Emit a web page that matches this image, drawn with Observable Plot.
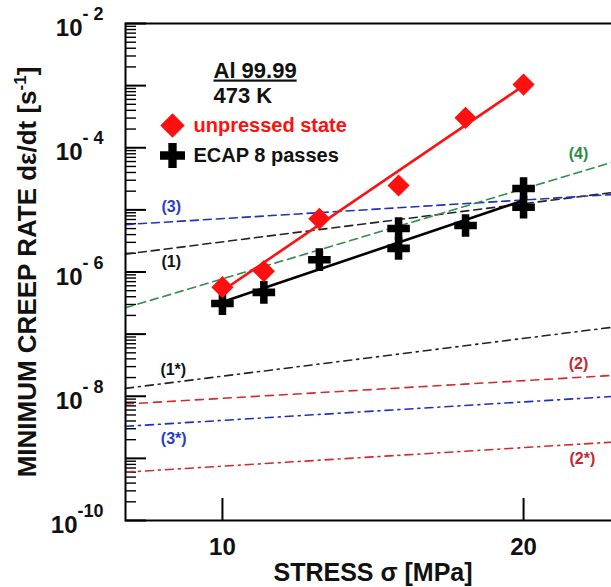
<!DOCTYPE html>
<html><head><meta charset="utf-8">
<script src="https://cdn.jsdelivr.net/npm/d3@7"></script>
<script src="https://cdn.jsdelivr.net/npm/@observablehq/plot@0.6"></script>
<style>
html,body{margin:0;padding:0;background:#fff;overflow:hidden;}
#chart{width:622px;height:587px;overflow:hidden;}
#chart svg{max-width:none !important;}
</style></head><body><div id="chart"></div>
<script>
// ---- data ----
const stressUnpressed = [10, 11, 12.5, 15, 17.5, 20];
const rateUnpressed = [5.7e-7, 1.03e-6, 7.2e-6, 2.47e-5, 3.03e-4, 1.04e-3];
const stressEcap = [10, 11, 12.5, 15, 15, 17.5, 20, 20];
const rateEcap = [3.1e-7, 4.7e-7, 1.58e-6, 5.0e-6, 2.4e-6, 5.6e-6, 2.2e-5, 1.1e-5];
const fitStress = [10, 20];
const fitUnpressed = [5.0e-7, 1.0e-3];
const fitEcap = [3.3e-7, 1.42e-5];
const theoryNames = ["(1)", "(2)", "(3)", "(4)", "(1*)", "(2*)", "(3*)"];
const theoryStress = [8, 25];
const theoryRateStart = [1.94e-6, 7.5e-9, 5.79e-6, 2.65e-7, 1.34e-8, 6.0e-10, 3.28e-9];
const theoryRateEnd = [1.98e-5, 2.2e-8, 1.8e-5, 6.4e-5, 1.34e-7, 1.86e-9, 1.01e-8];
const theoryLabelStress = [8.89, 22.7, 8.89, 22.7, 8.93, 22.9, 8.94];
const theoryLabelRate = [1.44e-6, 3.33e-8, 1.13e-5, 8.0e-5, 2.67e-8, 9.8e-10, 2.07e-9];
const xTickValues = [10, 20];
const yLabelTicks = [1e-2, 1e-4, 1e-6, 1e-8, 1e-10];
const yExponents = ["- 2", "- 4", "- 6", "- 8", "-10"];
const annotationLines = ["Al 99.99", "473 K"];
const legendNames = ["unpressed state", "ECAP 8 passes"];
const xAxisTitle = "STRESS σ [MPa]";
const yAxisTitle = "MINIMUM CREEP RATE dε/dt [s^-1]";

// ---- styles ----
const FONT = "'Liberation Sans', Arial, Helvetica, sans-serif";
const RED = "#ff1010";
const theoryStyle = {
  "(1)":  {stroke: "#222222", dash: "8,5", text: "#111111"},
  "(2)":  {stroke: "#d42a2e", dash: "8,6", text: "#c42830"},
  "(3)":  {stroke: "#2030c0", dash: "8,5", text: "#2a3cc8"},
  "(4)":  {stroke: "#2f8f4a", dash: "8,5", text: "#2e8b4a"},
  "(1*)": {stroke: "#222222", dash: "8,5,2,5", text: "#111111"},
  "(2*)": {stroke: "#d42a2e", dash: "8,5,2,5", text: "#c42830"},
  "(3*)": {stroke: "#2030c0", dash: "8,5,2,5", text: "#2a3cc8"}
};

const width = 622, height = 587;
const mL = 125, mR = 2, mT = 23, mB = 67;
const fw = width - mL - mR, fh = height - mT - mB;

// ---- tables ----
const unpressed = stressUnpressed.map((s, i) => ({s, r: rateUnpressed[i]}));
const ecap = stressEcap.map((s, i) => ({s, r: rateEcap[i]}));
const fitU = fitStress.map((s, i) => ({s, r: fitUnpressed[i]}));
const fitE = fitStress.map((s, i) => ({s, r: fitEcap[i]}));
const theoryLines = theoryNames.map((name, i) => [
  {name, s: theoryStress[0], r: theoryRateStart[i]},
  {name, s: theoryStress[1], r: theoryRateEnd[i]}
]);
const theoryLabels = theoryNames.map((name, i) => ({name, s: theoryLabelStress[i], r: theoryLabelRate[i]}));
const allYTicks = d3.scaleLog().domain([1e-10, 1e-2]).ticks();
const isDecade = d => Math.abs(Math.log10(d) - Math.round(Math.log10(d))) < 1e-9;
const majorY = allYTicks.filter(isDecade);
const minorY = allYTicks.filter(d => !isDecade(d));
const expMap = new Map(yLabelTicks.map((d, i) => [d, yExponents[i]]));

const marks = [
  Plot.tickY(minorY, {y: d => d, insetRight: fw - 11, stroke: "black", strokeWidth: 1.4}),
  Plot.tickY(majorY, {y: d => d, insetRight: fw - 21, stroke: "black", strokeWidth: 2}),
  Plot.tickX(xTickValues, {x: d => d, insetTop: fh - 22, stroke: "black", strokeWidth: 2}),
  ...theoryLines.map(pts => Plot.line(pts, {
    x: "s", y: "r", stroke: theoryStyle[pts[0].name].stroke,
    strokeDasharray: theoryStyle[pts[0].name].dash, strokeWidth: 1.6
  })),
  ...theoryLabels.map(d => Plot.text([d], {
    x: "s", y: "r", text: "name", fill: theoryStyle[d.name].text,
    fontSize: 16, fontWeight: "bold"
  })),
  Plot.line(fitE, {x: "s", y: "r", stroke: "black", strokeWidth: 2.6}),
  Plot.line(fitU, {x: "s", y: "r", stroke: RED, strokeWidth: 2.6}),
  Plot.dot(ecap, {x: "s", y: "r", symbol: "cross", r: 9.5, fill: "black", stroke: "none"}),
  Plot.dot(unpressed, {x: "s", y: "r", symbol: "diamond2", r: 10, fill: RED, stroke: "none"}),
  // annotation block
  Plot.text([annotationLines[0]], {frameAnchor: "top-left", dx: 88, dy: 54, lineAnchor: "bottom", textAnchor: "start",
    fontSize: 22, fontWeight: "bold", fill: "#111"}),
  Plot.text([annotationLines[1]], {frameAnchor: "top-left", dx: 88, dy: 79, lineAnchor: "bottom", textAnchor: "start",
    fontSize: 22, fontWeight: "bold", fill: "#111"}),
  // legend
  Plot.dot([legendNames[0]], {frameAnchor: "top-left", dx: 47, dy: 102, symbol: "diamond2", r: 11, fill: RED, stroke: "none"}),
  Plot.text([legendNames[0]], {frameAnchor: "top-left", dx: 68, dy: 108.5, lineAnchor: "bottom", textAnchor: "start",
    fontSize: 20, fontWeight: "bold", fill: RED}),
  Plot.dot([legendNames[1]], {frameAnchor: "top-left", dx: 47, dy: 132, symbol: "cross", r: 10.5, fill: "black", stroke: "none"}),
  Plot.text([legendNames[1]], {frameAnchor: "top-left", dx: 68, dy: 138, lineAnchor: "bottom", textAnchor: "start",
    fontSize: 20, fontWeight: "bold", fill: "#111"}),
  Plot.frame({stroke: "black", strokeWidth: 2}),
  Plot.axisX(xTickValues, {tickSize: 0, tickPadding: 17, fontSize: 24, fontWeight: "bold", label: null}),
  Plot.axisY(yLabelTicks, {tickSize: 0, tickPadding: 22, dy: 5, fontSize: 24, fontWeight: "bold", label: null,
    tickFormat: d => "10^" + expMap.get(d)}),
  Plot.text([xAxisTitle], {frameAnchor: "bottom", dy: 60, lineAnchor: "bottom", textAnchor: "middle",
    fontSize: 25, fontWeight: "bold", fill: "#111"}),
  Plot.text([yAxisTitle], {frameAnchor: "left", dx: -98, rotate: -90, textAnchor: "middle", lineAnchor: "middle",
    fontSize: 26, fontWeight: "bold", fill: "#111"})
];

const chart = Plot.plot({
  width, height,
  marginLeft: mL, marginRight: mR, marginTop: mT, marginBottom: mB,
  style: {fontFamily: FONT, background: "white", overflow: "visible", color: "#111", maxWidth: "none"},
  x: {type: "log", domain: [8, 25], label: null},
  y: {type: "log", domain: [1e-10, 1e-2], label: null},
  marks
});
chart.style.maxWidth = "none";
document.getElementById("chart").appendChild(chart);

// superscripts for y tick labels
d3.select(chart).selectAll('g[aria-label="y-axis tick label"] text').each(function() {
  const t = this.textContent;
  if (!t.includes("^")) return;
  const [b, e] = t.split("^");
  const sel = d3.select(this);
  sel.text(null);
  sel.append("tspan").text(b);
  sel.append("tspan").attr("dy", -16).attr("font-size", 18).text(e);
});
d3.select(chart).selectAll('g[aria-label="y-axis tick label"]').attr("font-weight", "bold").attr("font-size", 24);
d3.select(chart).selectAll('g[aria-label="x-axis tick label"]').attr("font-weight", "bold").attr("font-size", 24);

d3.select(chart).selectAll("text").each(function() {
  const t = this.textContent;
  const sel = d3.select(this);
  if (t === annotationLines[0]) {
    sel.attr("text-decoration", "underline").style("text-decoration", "underline");
  } else if (t === yAxisTitle) {
    const [a, rest] = t.split("^");
    const sup = rest.replace("]", "");
    sel.text(null);
    sel.append("tspan").text(a);
    sel.append("tspan").attr("dy", -10).attr("font-size", 17).text(sup);
    sel.append("tspan").attr("dy", 10).text("]");
  }
});
</script>
</body></html>
